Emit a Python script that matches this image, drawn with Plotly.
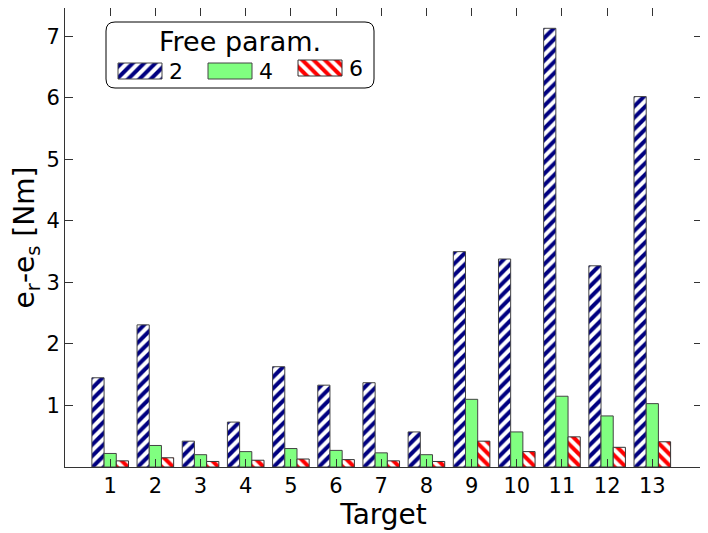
import plotly.graph_objects as go

targets = list(range(1, 14))
vals_2 = [1.45, 2.31, 0.42, 0.73, 1.63, 1.33, 1.37, 0.57, 3.50, 3.38, 7.13, 3.27, 6.02]
vals_4 = [0.22, 0.35, 0.20, 0.25, 0.30, 0.27, 0.23, 0.20, 1.10, 0.57, 1.15, 0.83, 1.03]
vals_6 = [0.10, 0.15, 0.09, 0.11, 0.13, 0.12, 0.10, 0.09, 0.42, 0.25, 0.49, 0.32, 0.41]
series_names = ["2", "4", "6"]
y_ticks = [1, 2, 3, 4, 5, 6, 7]

FONT = "DejaVu Sans"
OFF = 8  # page body margin the browser adds around the plot div
W, H = 708 - OFF, 533 - OFF
L, R, T, B = 65 - OFF, 6, 0, 66

BLUE = dict(color="white", line=dict(color="#444444", width=1),
            pattern=dict(shape="/", fgcolor="#000080", bgcolor="white",
                         size=8, solidity=0.5, fillmode="replace"))
GREEN = dict(color="#80ff80", line=dict(color="#444444", width=1))
RED = dict(color="white", line=dict(color="#333333", width=1),
           pattern=dict(shape="\\", fgcolor="#ff0000", bgcolor="white",
                        size=8, solidity=0.5, fillmode="replace"))
styles = [BLUE, GREEN, RED]

fig = go.Figure()
for name, vals, st in zip(series_names, [vals_2, vals_4, vals_6], styles):
    fig.add_trace(go.Bar(x=targets, y=vals, name=name, marker=st, showlegend=False))

# --- hand-made legend (matplotlib style, rounded box), page pixel coords ---
pw, ph = W - L - R, H - T - B
def px(x):
    return (x - OFF - L) / pw
def py(y):
    return (H - B - (y - OFF)) / ph

bx0, bx1, by0, by1 = 106, 374, 22, 88
swatch_w = 44
swatch_x = [118, 208, 298]
swatch_top = [63, 63, 60]
swatch_h = 16

for name, st, sx, st_top in zip(series_names, styles, swatch_x, swatch_top):
    fig.add_trace(go.Bar(
        x=[sx], y=[swatch_h], base=[st_top], width=[swatch_w], offset=0,
        marker=st, xaxis="x2", yaxis="y2", showlegend=False, hoverinfo="skip",
    ))
    fig.add_annotation(x=sx + swatch_w + 5, y=st_top + swatch_h / 2 + 1,
                       xref="x2", yref="y2", text=name, showarrow=False,
                       xanchor="left", yanchor="middle", font=dict(size=22))

fig.add_annotation(x=(bx0 + bx1) / 2, y=42, xref="x2", yref="y2",
                   text="Free param.", showarrow=False,
                   xanchor="center", yanchor="middle", font=dict(size=27))

r = 9
x0, x1, y0, y1 = px(bx0), px(bx1), py(by0), py(by1)
rx, ry = r / pw, r / ph
path = (f"M {x0 + rx} {y0} L {x1 - rx} {y0} Q {x1} {y0} {x1} {y0 - ry} "
        f"L {x1} {y1 + ry} Q {x1} {y1} {x1 - rx} {y1} L {x0 + rx} {y1} "
        f"Q {x0} {y1} {x0} {y1 + ry} L {x0} {y0 - ry} Q {x0} {y0} {x0 + rx} {y0} Z")
fig.add_shape(type="path", path=path, xref="paper", yref="paper",
              line=dict(color="black", width=1), fillcolor="rgba(0,0,0,0)",
              layer="above")

fig.update_layout(
    width=W, height=H,
    margin=dict(l=L, r=R, t=T, b=B),
    plot_bgcolor="white", paper_bgcolor="white",
    font=dict(family=FONT, size=21, color="black"),
    barmode="group", bargap=0.19, bargroupgap=0,
    showlegend=False,
    xaxis=dict(
        range=[0, 14.1], tickmode="array", tickvals=targets,
        ticktext=[str(t) for t in targets],
        ticks="inside", ticklen=8, tickcolor="#333333",
        showline=True, linecolor="#333333", linewidth=1, mirror="ticks",
        showgrid=False, zeroline=False, automargin=False,
        tickfont=dict(size=21),
        title=dict(text="Target", font=dict(size=28), standoff=2),
    ),
    yaxis=dict(
        range=[0, 7.46], tickmode="array", tickvals=y_ticks,
        ticks="inside", ticklen=8, tickcolor="#333333",
        showline=True, linecolor="#333333", linewidth=1, mirror="ticks",
        showgrid=False, zeroline=False, automargin=False,
        tickfont=dict(size=21),
        title=dict(text="e<sub>r</sub>-e<sub>s</sub> [Nm]", font=dict(size=28), standoff=8),
    ),
    xaxis2=dict(domain=[px(bx0), px(bx1)], range=[bx0, bx1], anchor="y2",
                visible=False, fixedrange=True),
    yaxis2=dict(domain=[py(by1), py(by0)], range=[by1, by0], anchor="x2",
                visible=False, fixedrange=True),
)

fig.write_html("out.html")
